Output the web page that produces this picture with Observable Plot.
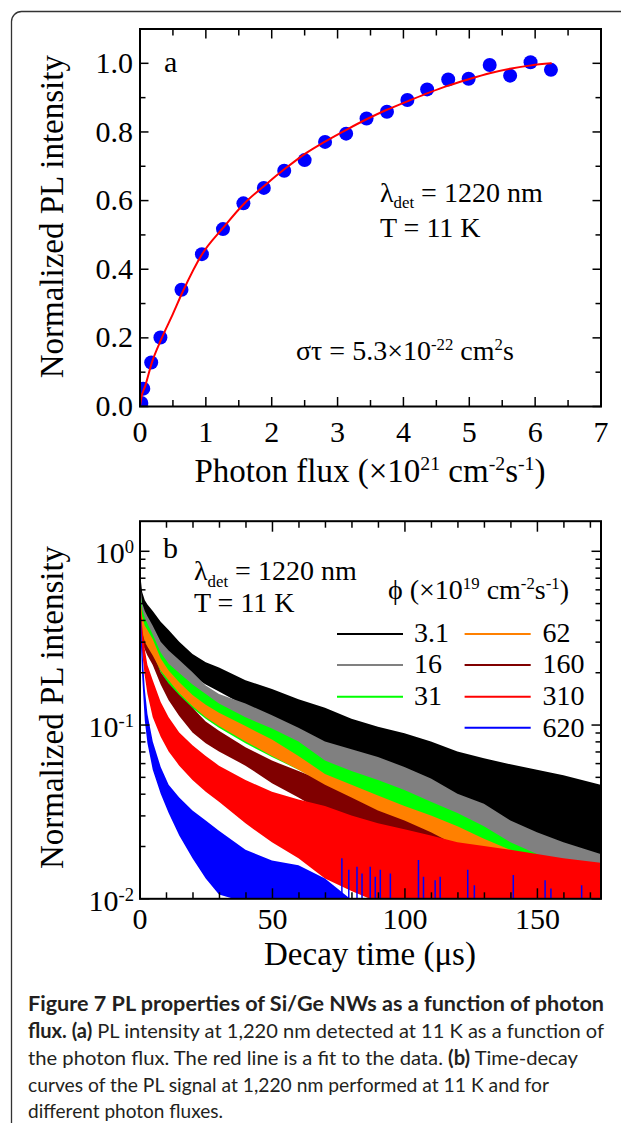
<!DOCTYPE html>
<html><head><meta charset="utf-8">
<script src="https://cdn.jsdelivr.net/npm/d3@7"></script>
<script src="https://cdn.jsdelivr.net/npm/@observablehq/plot@0.6"></script>
<style>
body{margin:0;background:#fff;}
#root{position:relative;width:621px;height:1123px;overflow:hidden;background:#fff;}
#root > svg{position:absolute;left:0;}
</style></head><body><div id="root"></div>
<script>
// ---------- Panel a data ----------
const fluxX = [0.02, 0.05, 0.17, 0.31, 0.63, 0.94, 1.26, 1.57, 1.88, 2.19, 2.50, 2.81, 3.13, 3.44, 3.75, 4.06, 4.36, 4.68, 4.99, 5.31, 5.62, 5.93, 6.24];
const fluxY = [0.01, 0.052, 0.128, 0.201, 0.34, 0.444, 0.517, 0.592, 0.637, 0.687, 0.718, 0.771, 0.795, 0.839, 0.859, 0.893, 0.924, 0.953, 0.955, 0.995, 0.964, 1.003, 0.981];
const fitX = [0, 0.02, 0.08, 0.18, 0.32, 0.5, 0.65, 0.95, 1.25, 1.58, 1.88, 2.21, 2.51, 2.81, 3.14, 3.44, 3.74, 4.07, 4.38, 4.68, 4.98, 5.31, 5.64, 5.94, 6.24];
const fitY = [0, 0.025, 0.06, 0.128, 0.195, 0.27, 0.335, 0.446, 0.518, 0.591, 0.642, 0.694, 0.737, 0.772, 0.807, 0.837, 0.864, 0.890, 0.914, 0.935, 0.953, 0.971, 0.985, 0.994, 1.0];
const xTicksA = [0, 1, 2, 3, 4, 5, 6, 7];
const xMinorA = [0.5, 1.5, 2.5, 3.5, 4.5, 5.5, 6.5];
const yTicksA = [0, 0.2, 0.4, 0.6, 0.8, 1.0];
const yMinorA = [0.1, 0.3, 0.5, 0.7, 0.9, 1.1];

// ---------- Panel b data (noise envelope low/high) ----------
const decayT = [0, 0.5, 1, 2, 3, 5, 8, 11, 15, 20, 25, 30, 40, 50, 60, 70, 80, 90, 100, 110, 120, 130, 140, 150, 160, 174];
const hi_3_1 = [1.0, 0.68, 0.58, 0.52, 0.49, 0.45, 0.39, 0.35, 0.30, 0.255, 0.228, 0.213, 0.18, 0.16, 0.14, 0.125, 0.108, 0.097, 0.089, 0.08, 0.07, 0.064, 0.059, 0.055, 0.051, 0.045];
const lo_3_1 = [0.9, 0.55, 0.46, 0.41, 0.38, 0.34, 0.29, 0.26, 0.22, 0.19, 0.17, 0.155, 0.128, 0.108, 0.09, 0.077, 0.066, 0.056, 0.048, 0.041, 0.034, 0.028, 0.023, 0.019, 0.015, 0.011];
const hi_16 = [0.98, 0.6, 0.5, 0.45, 0.42, 0.37, 0.3, 0.267, 0.235, 0.2, 0.168, 0.15, 0.132, 0.113, 0.096, 0.08, 0.072, 0.065, 0.057, 0.049, 0.04, 0.035, 0.028, 0.024, 0.021, 0.018];
const lo_16 = [0.88, 0.46, 0.4, 0.35, 0.32, 0.28, 0.23, 0.2, 0.17, 0.145, 0.125, 0.11, 0.09, 0.076, 0.064, 0.054, 0.046, 0.04, 0.034, 0.029, 0.024, 0.02, 0.016, 0.013, 0.011, 0.0095];
const hi_31 = [0.95, 0.55, 0.46, 0.41, 0.38, 0.33, 0.26, 0.224, 0.198, 0.17, 0.15, 0.132, 0.11, 0.095, 0.08, 0.062, 0.054, 0.048, 0.042, 0.036, 0.031, 0.026, 0.021, 0.018, 0.015, 0.014];
const lo_31 = [0.85, 0.44, 0.37, 0.32, 0.29, 0.25, 0.2, 0.17, 0.145, 0.124, 0.108, 0.096, 0.078, 0.065, 0.055, 0.046, 0.039, 0.033, 0.028, 0.024, 0.02, 0.017, 0.014, 0.012, 0.011, 0.0095];
const hi_62 = [0.93, 0.5, 0.42, 0.37, 0.35, 0.31, 0.24, 0.205, 0.175, 0.148, 0.13, 0.117, 0.098, 0.082, 0.066, 0.052, 0.045, 0.039, 0.034, 0.03, 0.026, 0.022, 0.019, 0.016, 0.014, 0.013];
const lo_62 = [0.82, 0.4, 0.34, 0.3, 0.28, 0.25, 0.205, 0.18, 0.152, 0.128, 0.11, 0.098, 0.08, 0.066, 0.055, 0.045, 0.038, 0.032, 0.028, 0.024, 0.02, 0.017, 0.015, 0.013, 0.011, 0.0095];
const hi_160 = [0.9, 0.45, 0.37, 0.32, 0.3, 0.26, 0.2, 0.172, 0.148, 0.125, 0.104, 0.092, 0.074, 0.062, 0.054, 0.047, 0.041, 0.035, 0.031, 0.027, 0.024, 0.021, 0.018, 0.016, 0.014, 0.013];
const lo_160 = [0.8, 0.36, 0.3, 0.27, 0.25, 0.22, 0.17, 0.138, 0.112, 0.09, 0.078, 0.07, 0.058, 0.046, 0.038, 0.031, 0.026, 0.022, 0.02, 0.018, 0.017, 0.016, 0.014, 0.012, 0.011, 0.0095];
const hi_310 = [1.08, 0.5, 0.37, 0.27, 0.22, 0.18, 0.135, 0.11, 0.09, 0.076, 0.066, 0.058, 0.048, 0.041, 0.037, 0.034, 0.03, 0.027, 0.025, 0.023, 0.021, 0.02, 0.019, 0.018, 0.017, 0.016];
const lo_310 = [0.85, 0.36, 0.26, 0.19, 0.15, 0.11, 0.085, 0.07, 0.058, 0.048, 0.041, 0.036, 0.027, 0.021, 0.017, 0.013, 0.011, 0.0095, 0.0095, 0.0095, 0.0095, 0.0095, 0.0095, 0.0095, 0.0095, 0.0095];
const hi_620 = [1.0, 0.45, 0.28, 0.16, 0.115, 0.08, 0.057, 0.045, 0.038, 0.032, 0.028, 0.0245, 0.019, 0.0165, 0.0155, 0.013, 0.0098, null, null, null, null, null, null, null, null, null];
const lo_620 = [0.85, 0.3, 0.19, 0.105, 0.078, 0.055, 0.04, 0.031, 0.023, 0.017, 0.013, 0.0105, 0.0095, 0.0095, 0.0095, 0.0095, 0.0095, null, null, null, null, null, null, null, null, null];
const blueSpikeT = [76.2, 78.8, 81.9, 83.8, 86.9, 88.8, 90.7, 94.5, 105.1, 107, 111.4, 113.3, 123.7, 126.2, 140.9, 152.9, 155.1, 166.7];
const blueSpikeH = [0.017, 0.0146, 0.0152, 0.0139, 0.0152, 0.0133, 0.0146, 0.0139, 0.0166, 0.0133, 0.0127, 0.0133, 0.0146, 0.0119, 0.0136, 0.0127, 0.0114, 0.0119];
const seriesLabels = ["3.1", "16", "31", "62", "160", "310", "620"];
const seriesColors = ["#000000", "#808080", "#00ff00", "#ff8000", "#800000", "#ff0000", "#0000ff"];
const seriesHi = [hi_3_1, hi_16, hi_31, hi_62, hi_160, hi_310, hi_620];
const seriesLo = [lo_3_1, lo_16, lo_31, lo_62, lo_160, lo_310, lo_620];
const drawOrder = [0, 1, 2, 4, 3, 5, 6];
const xTicksB = [0, 50, 100, 150];
const xMinorB = [10, 20, 30, 40, 60, 70, 80, 90, 110, 120, 130, 140, 160, 170];
const yTicksB = [0.01, 0.1, 1];
const yMinorB = [0.02, 0.03, 0.04, 0.05, 0.06, 0.07, 0.08, 0.09, 0.2, 0.3, 0.4, 0.5, 0.6, 0.7, 0.8, 0.9];

const SERIF = "'Liberation Serif', 'Times New Roman', serif";
const root = d3.select("#root");

function rich(parent, x, y, segs, size, opt = {}) {
  const t = parent.append("text")
    .attr("x", x).attr("y", y)
    .attr("font-size", size)
    .attr("font-family", SERIF)
    .attr("text-anchor", opt.anchor || "start")
    .attr("fill", "#000")
    .style("white-space", "pre");
  if (opt.rotate) t.attr("transform", `rotate(${opt.rotate},${x},${y})`);
  let shift = 0;
  for (const [str, kind] of segs) {
    const target = kind === "sup" ? -size * (opt.supRaise || 0.36) : kind === "sub" ? size * 0.24 : 0;
    const fs = kind ? size * (opt.small || 0.6) : size;
    t.append("tspan").attr("dy", target - shift).attr("font-size", fs).text(str);
    shift = target;
  }
  return t;
}

// inward ticks: outward Plot axis ticks shifted back by their own length
function inTicks(ticks, len) {
  const o = {tickFormat: () => "", strokeWidth: 1.5, label: null};
  return [
    Plot.axisX({...o, ticks: ticks.x, anchor: "bottom", tickSize: len, dy: -len}),
    Plot.axisX({...o, ticks: ticks.x, anchor: "top", tickSize: len, dy: len}),
    Plot.axisY({...o, ticks: ticks.y, anchor: "left", tickSize: len, dx: len}),
    Plot.axisY({...o, ticks: ticks.y, anchor: "right", tickSize: len, dx: -len})
  ];
}

// ---------- Border + caption ----------
const bg = root.append("svg").attr("width", 621).attr("height", 1123).style("top", "0px");
bg.append("path").attr("d", "M11.5,1123 L11.5,21.5 A10,10 0 0 1 21.5,11.5 L621,11.5")
  .attr("fill", "none").attr("stroke", "#333").attr("stroke-width", 1.3);
const capLines = [
  [["Figure 7 PL properties of Si/Ge NWs as a function of photon", true]],
  [["flux. (a)", true], [" PL intensity at 1,220 nm detected at 11 K as a function of", false]],
  [["the photon flux. The red line is a fit to the data. ", false], ["(b)", true], [" Time-decay", false]],
  [["curves of the PL signal at 1,220 nm performed at 11 K and for", false]],
  [["different photon fluxes.", false]]
];
const capBase = [1011, 1038.3, 1065, 1091.7, 1118.3];
const capWidths = [576, 576, 550, 521, 195];
capLines.forEach((line, i) => {
  const t = bg.append("text").attr("x", 28).attr("y", capBase[i])
    .attr("font-family", "Lato, 'Open Sans', sans-serif").attr("font-size", 20)
    .attr("fill", "#231f20").attr("textLength", capWidths[i]).attr("lengthAdjust", "spacingAndGlyphs")
    .style("white-space", "pre");
  line.forEach(([s, b]) => t.append("tspan").attr("font-weight", b ? 700 : 400).text(s));
});

// ---------- Panel a ----------
const pts = fluxX.map((x, i) => ({x, y: fluxY[i]}));
const fit = fitX.map((x, i) => ({x, y: fitY[i]}));
const axStyle = {fontFamily: SERIF, fontSize: "30px", color: "black", background: "transparent", overflow: "visible"};
const chartA = Plot.plot({
  width: 621, height: 490,
  marginLeft: 139.5, marginRight: 20.5, marginTop: 28.5, marginBottom: 84,
  x: {domain: [0, 7], label: null},
  y: {domain: [0, 1.1], label: null},
  style: axStyle,
  marks: [
    Plot.dot(pts, {x: "x", y: "y", r: 7, fill: "#0000ff", clip: true}),
    Plot.line(fit, {x: "x", y: "y", stroke: "#ff0000", strokeWidth: 2, curve: "monotone-x", clip: true}),
    ...inTicks({x: xTicksA, y: yTicksA}, 9),
    ...inTicks({x: xMinorA, y: yMinorA}, 6),
    Plot.axisX({ticks: xTicksA, anchor: "bottom", tickSize: 0, tickPadding: 14, tickFormat: d => String(d), label: null}),
    Plot.axisY({ticks: yTicksA, anchor: "left", tickSize: 0, tickPadding: 7, tickFormat: d3.format(".1f"), label: null}),
    Plot.frame({stroke: "black", strokeWidth: 2})
  ]
});
d3.select(chartA).style("top", "0px");
root.node().appendChild(chartA);
const gA = d3.select(chartA).append("g");
rich(gA, 63, 216.7, [["Normalized PL intensity"]], 33, {anchor: "middle", rotate: -90});
rich(gA, 370, 481.7, [["Photon flux (×10"], ["21", "sup"], [" cm"], ["-2", "sup"], ["s"], ["-1", "sup"], [")"]], 33, {anchor: "middle"});
rich(gA, 164, 71.7, [["a"]], 30);
rich(gA, 380, 201.7, [["λ"], ["det", "sub"], [" = 1220 nm"]], 28);
rich(gA, 380, 236.7, [["T = 11 K"]], 28);
rich(gA, 296, 360, [["στ = 5.3×10"], ["-22", "sup"], [" cm"], ["2", "sup"], ["s"]], 28);

// ---------- Panel b ----------
const bands = drawOrder.map(k => {
  const rows = decayT.map((t, i) => ({t, lo: seriesLo[k][i], hi: seriesHi[k][i]})).filter(d => d.lo != null && d.hi != null);
  return Plot.areaY(rows, {x: "t", y1: "lo", y2: "hi", fill: seriesColors[k], clip: true});
});
const spikes = blueSpikeT.map((t, i) => ({t, h: blueSpikeH[i]}));
const chartB = Plot.plot({
  width: 621, height: 500,
  marginLeft: 139.5, marginRight: 20.5, marginTop: 30.7, marginBottom: 91.7,
  x: {domain: [0, 174], label: null},
  y: {type: "log", domain: [0.01, 1.49], label: null},
  style: axStyle,
  marks: [
    ...bands,
    Plot.ruleX(spikes, {x: "t", y1: 0.0095, y2: "h", stroke: "#0000ff", strokeWidth: 1.5, clip: true}),
    ...inTicks({x: xTicksB, y: yTicksB}, 10),
    ...inTicks({x: xMinorB, y: yMinorB}, 6),
    Plot.axisX({ticks: xTicksB, anchor: "bottom", tickSize: 0, tickPadding: 9, tickFormat: d => String(d), label: null}),
    Plot.frame({stroke: "black", strokeWidth: 2})
  ]
});
d3.select(chartB).style("top", "490px");
root.node().appendChild(chartB);
const gB = d3.select(chartB).append("g");
const yB = chartB.scale("y");
[[1, "0"], [0.1, "-1"], [0.01, "-2"]].forEach(([v, e]) => {
  rich(gB, 134, yB.apply(v) + 12.5, [["10"], [e, "sup"]], 30, {anchor: "end", supRaise: 0.34, small: 0.62});
});
rich(gB, 63, 217.5, [["Normalized PL intensity"]], 33, {anchor: "middle", rotate: -90});
rich(gB, 370, 475, [["Decay time (μs)"]], 33, {anchor: "middle"});
rich(gB, 163, 68, [["b"]], 30);
rich(gB, 194, 90, [["λ"], ["det", "sub"], [" = 1220 nm"]], 28);
rich(gB, 194, 121.7, [["T = 11 K"]], 28);
rich(gB, 388, 109, [["ϕ (×10"], ["19", "sup"], [" cm"], ["-2", "sup"], ["s"], ["-1", "sup"], [")"]], 28);
// legend
const legRows = [[0, 0], [1, 1], [2, 2], [3, 0], [4, 1], [5, 2], [6, 3]];
const legLineY = [144, 175, 206.7, 237.7];
const legTextY = [151.7, 183.3, 215, 246.7];
legRows.forEach(([k, r]) => {
  const col = k < 3 ? 0 : 1;
  const x1 = col === 0 ? 337 : 464.6, x2 = col === 0 ? 403 : 530.7, tx = col === 0 ? 414 : 542.6;
  gB.append("line").attr("x1", x1).attr("x2", x2).attr("y1", legLineY[r]).attr("y2", legLineY[r])
    .attr("stroke", seriesColors[k]).attr("stroke-width", 2);
  rich(gB, tx, legTextY[r], [[seriesLabels[k]]], 28);
});
</script></body></html>
